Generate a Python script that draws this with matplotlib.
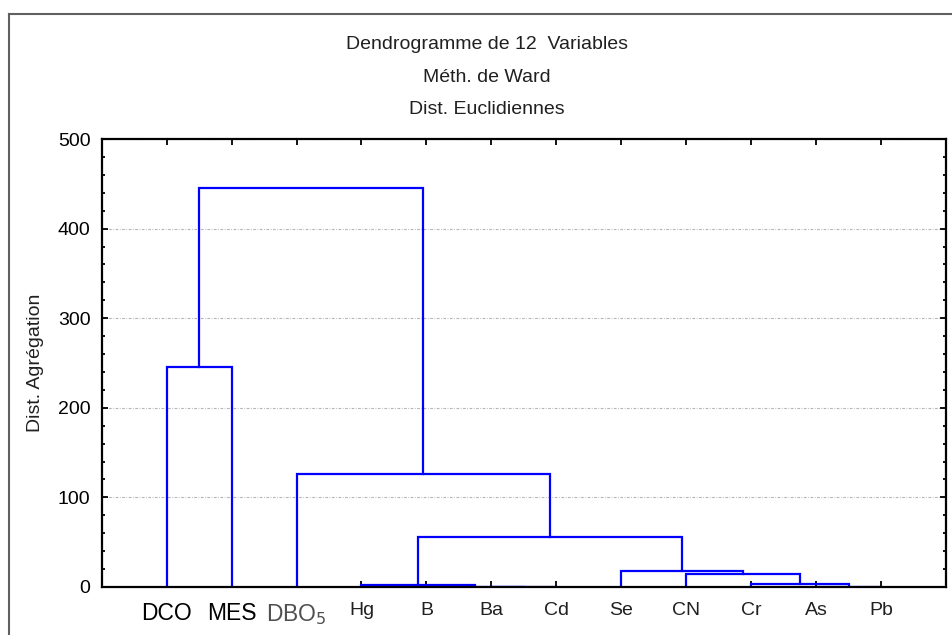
import matplotlib
matplotlib.use("Agg")
import matplotlib.pyplot as plt
from matplotlib.lines import Line2D
from matplotlib.ticker import MultipleLocator

plt.rcParams['font.family'] = ['Liberation Sans', 'DejaVu Sans']

# variables in leaf order
labels = ['DCO', 'MES', 'DBO$_5$', 'Hg', 'B', 'Ba', 'Cd', 'Se', 'CN', 'Cr', 'As', 'Pb']
# merges: (left node, right node, aggregation distance); new nodes numbered from 12
merge_left = [5, 4, 3, 10, 9, 8, 7, 14, 2, 0, 21]
merge_right = [6, 12, 13, 11, 15, 16, 17, 18, 19, 1, 20]
merge_height = [0.0, 0.2, 1.8, 0.2, 3.8, 14.5, 18.0, 56.0, 126.0, 246.0, 445.0]

fig = plt.figure(figsize=(9.53, 6.35), dpi=100)
ax = fig.add_axes([0.1067, 0.0756, 0.886, 0.7055])

# leaf positions then node positions
xpos = {i: i + 1 for i in range(len(labels))}
ypos = {i: 0.0 for i in range(len(labels))}
for k, (a, b, h) in enumerate(zip(merge_left, merge_right, merge_height)):
    node = len(labels) + k
    ax.plot([xpos[a], xpos[a], xpos[b], xpos[b]], [ypos[a], h, h, ypos[b]],
            color='#0000ff', lw=1.6, zorder=2, solid_joinstyle='miter')
    xpos[node] = (xpos[a] + xpos[b]) / 2
    ypos[node] = h

ax.set_xlim(0, 13)
ax.set_ylim(0, 500)
ax.set_xticks(range(1, len(labels) + 1))
ax.set_xticklabels(labels)
ax.yaxis.set_major_locator(MultipleLocator(100))
ax.yaxis.set_minor_locator(MultipleLocator(20))
ax.tick_params(axis='both', which='major', direction='in', length=4, width=1.3,
               top=True, right=True, labelsize=14)
ax.tick_params(axis='y', which='minor', direction='in', length=2.2, width=1.3, right=True)
ax.tick_params(axis='y', which='major', pad=8)
ax.tick_params(axis='x', which='major', pad=11)

for lab in ax.get_xticklabels():
    t = lab.get_text()
    if t in ('DCO', 'MES'):
        lab.set_fontsize(16.5)
        lab.set_color('black')
    elif t.startswith('DBO'):
        lab.set_fontsize(16.5)
        lab.set_color('#505050')
    else:
        lab.set_color('#202020')

ax.grid(axis='y', which='major', color='#b4b4b4', lw=0.8, linestyle=(0, (2.4, 1.4, 0.7, 1.4)), zorder=0)
for sp in ax.spines.values():
    sp.set_linewidth(1.6)
    sp.set_zorder(3)

ax.set_ylabel('Dist. Agrégation', fontsize=14, color='#202020', labelpad=10)

fig.text(0.511, 0.9307, 'Dendrogramme de 12  Variables', ha='center', va='center', fontsize=14, color='#202020')
fig.text(0.511, 0.8787, 'Méth. de Ward', ha='center', va='center', fontsize=14, color='#202020')
fig.text(0.511, 0.8283, 'Dist. Euclidiennes', ha='center', va='center', fontsize=14, color='#202020')

# outer frame of the original window
bx = 9.5 / 953
by = 1 - 14 / 635
fig.add_artist(Line2D([bx, 1], [by, by], transform=fig.transFigure, color='#606060', lw=1.5))
fig.add_artist(Line2D([bx, bx], [0, by], transform=fig.transFigure, color='#606060', lw=1.5))

fig.savefig('out.png', dpi=100)
